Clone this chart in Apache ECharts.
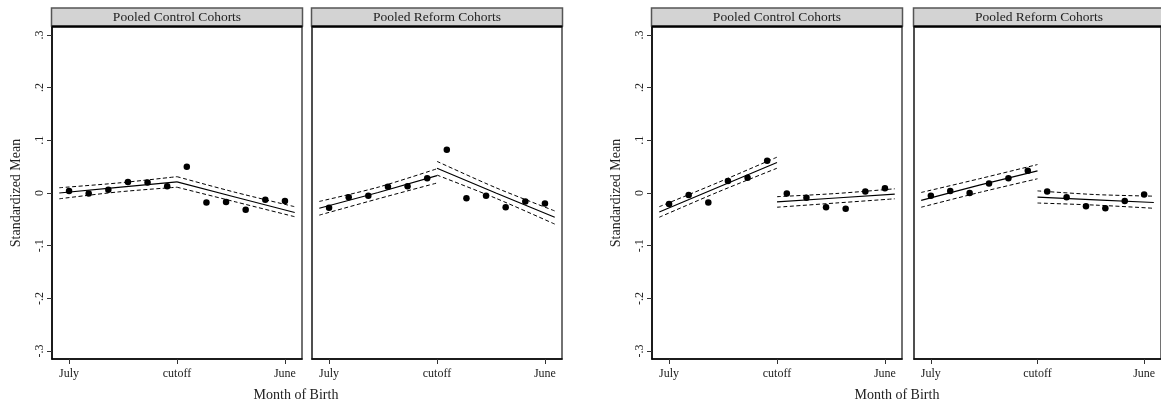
<!DOCTYPE html>
<html>
<head>
<meta charset="utf-8">
<script src="https://cdn.jsdelivr.net/npm/echarts@6/dist/echarts.min.js"></script>
<style>
html,body{margin:0;padding:0;background:#fff;}
#chart{width:1161px;height:406px;}
</style>
</head>
<body>
<div id="chart"></div>
<script>
// ---- Data ----
const monthX = [0,1,2,3,4,5,6,7,8,9,10,11];          // July ... June (month index)
const xTickValues = [0, 5.5, 11];
const xTickLabels = ['July', 'cutoff', 'June'];
const yTickValues = [-0.3, -0.2, -0.1, 0, 0.1, 0.2, 0.3];
const yTickLabels = ['-.3', '-.2', '-.1', '0', '.1', '.2', '.3'];
const panelTitles = ['Pooled Control Cohorts', 'Pooled Reform Cohorts', 'Pooled Control Cohorts', 'Pooled Reform Cohorts'];
const xAxisTitle = 'Month of Birth';
const yAxisTitle = 'Standardized Mean';

// fit line x positions (before / after cutoff)
const fitXPre  = [-0.5, 2.5, 5.5];
const fitXPost = [5.5, 8.5, 11.5];

// Panel 1: left figure, control cohorts
const p1Means   = [0.004, -0.001, 0.006, 0.021, 0.020, 0.013, 0.050, -0.018, -0.017, -0.032, -0.013, -0.015];
const p1PreFit  = [0.000, 0.0105, 0.021];
const p1PreUp   = [0.010, 0.019, 0.031];
const p1PreLo   = [-0.011, 0.002, 0.011];
const p1PostFit = [0.021, -0.008, -0.037];
const p1PostUp  = [0.031, 0.001, -0.026];
const p1PostLo  = [0.011, -0.017, -0.045];

// Panel 2: left figure, reform cohorts
const p2Means   = [-0.028, -0.008, -0.005, 0.012, 0.013, 0.028, 0.082, -0.010, -0.005, -0.027, -0.016, -0.020];
const p2PreFit  = [-0.029, 0.001, 0.033];
const p2PreUp   = [-0.016, 0.011, 0.046];
const p2PreLo   = [-0.042, -0.011, 0.019];
const p2PostFit = [0.047, 0.000, -0.046];
const p2PostUp  = [0.060, 0.010, -0.034];
const p2PostLo  = [0.034, -0.010, -0.059];

// Panel 3: right figure, control cohorts
const p3Means   = [-0.021, -0.004, -0.018, 0.023, 0.029, 0.061, -0.001, -0.009, -0.027, -0.030, 0.003, 0.009];
const p3PreFit  = [-0.036, 0.011, 0.058];
const p3PreUp   = [-0.026, 0.020, 0.068];
const p3PreLo   = [-0.046, 0.002, 0.047];
const p3PostFit = [-0.017, -0.0095, -0.002];
const p3PostUp  = [-0.007, -0.001, 0.008];
const p3PostLo  = [-0.027, -0.019, -0.011];

// Panel 4: right figure, reform cohorts
const p4Means   = [-0.005, 0.004, 0.000, 0.018, 0.028, 0.042, 0.003, -0.008, -0.025, -0.029, -0.015, -0.003];
const p4PreFit  = [-0.014, 0.015, 0.042];
const p4PreUp   = [0.001, 0.027, 0.054];
const p4PreLo   = [-0.027, 0.001, 0.027];
const p4PostFit = [-0.008, -0.013, -0.018];
const p4PostUp  = [0.004, -0.003, -0.006];
const p4PostLo  = [-0.019, -0.023, -0.029];

// ---- Build ----
const panels = [
  {means:p1Means, preFit:p1PreFit, preUp:p1PreUp, preLo:p1PreLo, postFit:p1PostFit, postUp:p1PostUp, postLo:p1PostLo},
  {means:p2Means, preFit:p2PreFit, preUp:p2PreUp, preLo:p2PreLo, postFit:p2PostFit, postUp:p2PostUp, postLo:p2PostLo},
  {means:p3Means, preFit:p3PreFit, preUp:p3PreUp, preLo:p3PreLo, postFit:p3PostFit, postUp:p3PostUp, postLo:p3PostLo},
  {means:p4Means, preFit:p4PreFit, preUp:p4PreUp, preLo:p4PreLo, postFit:p4PostFit, postUp:p4PostUp, postLo:p4PostLo}
];
const FONT = 'Liberation Serif';
const gridLefts = [52, 312, 652, 914];
const GW = 250, GT = 27, GH = 332;

const zip = (xs, ys) => xs.map((x, i) => [x, ys[i]]);
const yFmt = v => {
  for (let i = 0; i < yTickValues.length; i++) if (Math.abs(yTickValues[i] - v) < 1e-6) return yTickLabels[i];
  return '';
};
const xFmt = v => {
  for (let i = 0; i < xTickValues.length; i++) if (Math.abs(xTickValues[i] - v) < 1e-6) return xTickLabels[i];
  return '';
};

const grid = [], xAxis = [], yAxis = [], series = [], graphic = [];
panels.forEach((p, i) => {
  const isLeft = (i % 2 === 0);
  grid.push({left: gridLefts[i], top: GT, width: GW, height: GH, show: true, borderColor: '#444', borderWidth: 1.5, backgroundColor: '#fff'});
  xAxis.push({
    type: 'value', gridIndex: i, min: -0.87, max: 11.87,
    axisLine: {show: true, onZero: false, lineStyle: {color: '#000', width: 1.5}},
    axisTick: {show: true, customValues: xTickValues, length: 5, lineStyle: {color: '#333', width: 1}},
    axisLabel: {show: true, customValues: xTickValues, formatter: xFmt, fontFamily: FONT, fontSize: 12, color: '#222', margin: 9},
    splitLine: {show: false}
  });
  yAxis.push({
    type: 'value', gridIndex: i, min: -0.315, max: 0.315,
    name: isLeft ? yAxisTitle : '', nameLocation: 'middle', nameGap: 29,
    nameTextStyle: {fontFamily: FONT, fontSize: 14, color: '#222'},
    axisLine: {show: true, onZero: false, lineStyle: {color: isLeft ? '#000' : '#444', width: 1.5}},
    axisTick: {show: isLeft, customValues: yTickValues, length: 5, lineStyle: {color: '#333', width: 1}},
    axisLabel: {show: isLeft, customValues: yTickValues, formatter: yFmt, rotate: 90, fontFamily: FONT, fontSize: 12, color: '#222', margin: 6},
    splitLine: {show: false}
  });
  series.push({
    type: 'scatter', xAxisIndex: i, yAxisIndex: i, symbol: 'circle', symbolSize: 6.5,
    itemStyle: {color: '#000', opacity: 1}, data: zip(monthX, p.means), z: 5
  });
  const lineS = (xs, ys, dashed) => ({
    type: 'line', xAxisIndex: i, yAxisIndex: i, showSymbol: false, symbol: 'none', smooth: dashed ? 0.3 : false,
    lineStyle: {color: '#000', width: dashed ? 1 : 1.2, type: dashed ? [4, 2.5] : 'solid'},
    data: zip(xs, ys), silent: true, z: 3
  });
  series.push(lineS(fitXPre, p.preFit, false));
  series.push(lineS(fitXPre, p.preUp, true));
  series.push(lineS(fitXPre, p.preLo, true));
  series.push(lineS(fitXPost, p.postFit, false));
  series.push(lineS(fitXPost, p.postUp, true));
  series.push(lineS(fitXPost, p.postLo, true));

  // panel header strip
  graphic.push({type: 'rect', shape: {x: gridLefts[i] - 0.5, y: 8, width: GW + 1, height: 18},
    style: {fill: '#d3d3d3', stroke: '#555', lineWidth: 1.5}, z: 10});
  graphic.push({type: 'line', shape: {x1: gridLefts[i] - 0.5, y1: 26.5, x2: gridLefts[i] + GW + 0.5, y2: 26.5},
    style: {stroke: '#000', lineWidth: 2}, z: 11});
  graphic.push({type: 'text', x: gridLefts[i] + GW / 2, y: 17.5,
    style: {text: panelTitles[i], fontFamily: FONT, fontSize: 13.5, fill: '#222', align: 'center', verticalAlign: 'middle'}, z: 12});
});
graphic.push({type: 'text', x: 296, y: 395, style: {text: xAxisTitle, fontFamily: FONT, fontSize: 14, fill: '#222', align: 'center', verticalAlign: 'middle'}});
graphic.push({type: 'text', x: 897, y: 395, style: {text: xAxisTitle, fontFamily: FONT, fontSize: 14, fill: '#222', align: 'center', verticalAlign: 'middle'}});

const chart = echarts.init(document.getElementById('chart'), null, {renderer: 'canvas'});
chart.setOption({
  animation: false,
  backgroundColor: '#fff',
  grid, xAxis, yAxis, series, graphic
});
</script>
</body>
</html>
